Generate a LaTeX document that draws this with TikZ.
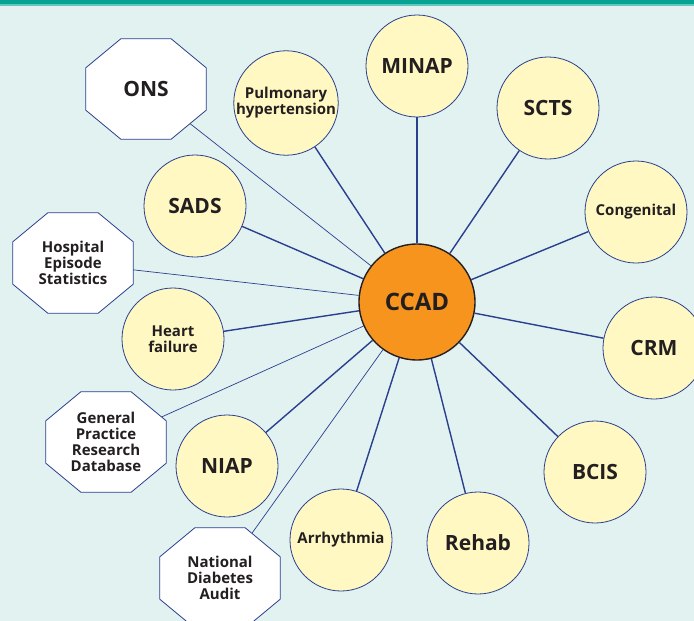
\documentclass[tikz,border=0pt]{standalone}
\usepackage{fontspec}
\setmainfont{Open Sans}
\usepackage{tikz}

\definecolor{panel}{HTML}{E1F2F0}
\definecolor{barteal}{HTML}{06A395}
\definecolor{barlight}{HTML}{62C6BC}
\definecolor{linkblue}{HTML}{2B3F8F}
\definecolor{paleyellow}{HTML}{FFF8C2}
\definecolor{hub}{HTML}{F7941E}
\definecolor{ink}{HTML}{231F20}

\begin{document}
\begin{tikzpicture}[x=1pt, y=-1pt,
    topic/.style={circle, draw=linkblue, fill=paleyellow, line width=0.8pt,
        minimum size=102pt, inner sep=0pt, align=center, text=ink,
        font=\bfseries\fontsize{15}{16}\selectfont},
    bigtopic/.style={topic, font=\bfseries\fontsize{21}{24}\selectfont},
    sourcebox/.style={rectangle, minimum width=120pt, minimum height=100pt, inner sep=0pt},
    sourcetext/.style={align=center, text=ink, inner sep=0pt,
        font=\bfseries\fontsize{15}{16}\selectfont},
    octagon/.style={draw=linkblue, fill=white, line width=0.8pt, line join=miter},
    spoke/.style={draw=linkblue, line width=1.4pt},
    thinspoke/.style={draw=linkblue, line width=0.7pt}]
    \useasboundingbox (0,0) rectangle (694,621);
    \fill[panel] (0,0) rectangle (694,621);
    % band along the top
    \fill[barlight] (0,0) rectangle (694,5.5);
    \fill[barteal] (0,0) rectangle (694,3.5);

    % registry at the middle
    \node[circle, draw=ink, fill=hub, line width=1.4pt, minimum size=116pt,
        text=ink, font=\bfseries\fontsize{24}{26}\selectfont] (ccad) at (417,302) {CCAD};

    % outside data sources (octagons drawn further down)
    \node[sourcebox] (ons) at (146,89) {};
    \node[sourcebox] (hes) at (73,263) {};
    \node[sourcebox] (gprd) at (106,442) {};
    \node[sourcebox] (nda) at (220,578) {};

    \foreach \n in {ons,hes,gprd,nda}
        \draw[thinspoke] (ccad) -- (\n.center);

    \foreach \n in {ons,hes,gprd,nda}
        \path[octagon] ([xshift=35pt]\n.north west) -- ([xshift=-35pt]\n.north east)
            -- ([yshift=-29pt]\n.north east) -- ([yshift=29pt]\n.south east)
            -- ([xshift=-35pt]\n.south east) -- ([xshift=35pt]\n.south west)
            -- ([yshift=29pt]\n.south west) -- ([yshift=-29pt]\n.north west) -- cycle;

    \node[sourcetext, font=\bfseries\fontsize{21}{24}\selectfont] (onstext) at (ons) {ONS};
    \node[sourcetext] (hestext) at (hes) {Hospital\\Episode\\Statistics};
    \node[sourcetext] (gprdtext) at (gprd) {General\\Practice\\Research\\Database};
    \node[sourcetext] (ndatext) at (nda) {National\\Diabetes\\Audit};

    % audits round it
    \node[bigtopic] (minap) at (417,66) {MINAP};
    \node[topic] (pulm) at (286,103) {Pulmonary\\hypertension};
    \node[bigtopic] (scts) at (548,108) {SCTS};
    \node[topic] (cong) at (636,212) {Congenital};
    \node[bigtopic] (crm) at (654,348) {CRM};
    \node[bigtopic] (bcis) at (595,472) {BCIS};
    \node[bigtopic] (rehab) at (478,543) {Rehab};
    \node[topic] (arrh) at (341,540) {Arrhythmia};
    \node[bigtopic] (niap) at (227,466) {NIAP};
    \node[topic] (hf) at (173,339) {Heart\\failure};
    \node[bigtopic] (sads) at (195,206) {SADS};

    \foreach \n in {minap,pulm,scts,cong,crm,bcis,rehab,arrh,niap,hf,sads}
        \draw[spoke] (ccad) -- (\n);
\end{tikzpicture}
\end{document}
